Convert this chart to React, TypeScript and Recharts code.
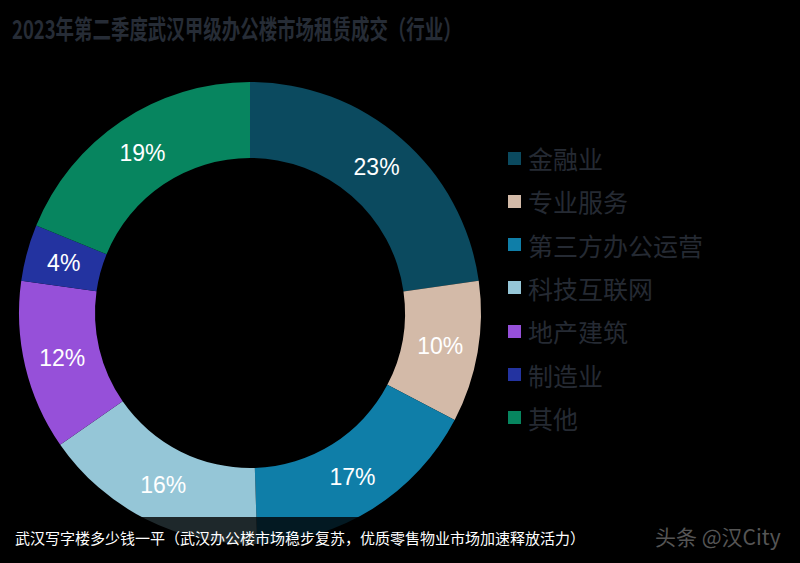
import { PieChart, Pie, Cell } from "recharts";

const sectors = ["金融业", "专业服务", "第三方办公运营", "科技互联网", "地产建筑", "制造业", "其他"];
const shares = [23, 10, 17, 16, 12, 4, 19];
const colors = ["#0b4a5f", "#d3baa8", "#0f7ea8", "#95c6d7", "#9650d9", "#2333a0", "#07855f"];

const data = sectors.map((name, i) => ({ name, value: shares[i] }));

const RADIAN = Math.PI / 180;

function renderLabel(props: any) {
  const { cx, cy, midAngle, innerRadius, outerRadius, index } = props;
  const r = (innerRadius + outerRadius) / 2;
  const x = cx + r * Math.cos(-midAngle * RADIAN);
  const y = cy + r * Math.sin(-midAngle * RADIAN);
  return (
    <text
      x={x}
      y={y}
      fill="#ffffff"
      fontSize={23}
      fontFamily="'Liberation Sans', Arial, sans-serif"
      textAnchor="middle"
      dominantBaseline="central"
    >
      {shares[index]}%
    </text>
  );
}

export default function App() {
  return (
    <div
      style={{
        position: "absolute",
        left: 0,
        top: 0,
        width: 800,
        height: 563,
        background: "#000",
        overflow: "hidden",
        fontFamily: "'Noto Sans CJK SC', sans-serif",
      }}
    >
      <div
        style={{
          position: "absolute",
          left: 12,
          top: 11,
          fontSize: 26,
          fontWeight: 700,
          color: "#262c36",
          whiteSpace: "nowrap",
          lineHeight: "34px",
          transform: "scaleX(0.71)",
          transformOrigin: "left center",
        }}
      >
        2023年第二季度武汉甲级办公楼市场租赁成交（行业）
      </div>

      <PieChart
        width={800}
        height={563}
        margin={{ top: 0, right: 0, bottom: 0, left: 0 }}
        style={{ position: "absolute", left: 0, top: 0 }}
      >
        <Pie
          data={data}
          dataKey="value"
          nameKey="name"
          cx={250}
          cy={313}
          innerRadius={155}
          outerRadius={231}
          startAngle={90}
          endAngle={-270}
          stroke="none"
          label={renderLabel}
          labelLine={false}
          isAnimationActive={false}
        >
          {data.map((_, i) => (
            <Cell key={i} fill={colors[i]} />
          ))}
        </Pie>
      </PieChart>

      {sectors.map((name, i) => (
        <div
          key={name}
          style={{
            position: "absolute",
            left: 508,
            top: 158 + i * 43.3 - 16,
            height: 32,
            display: "flex",
            alignItems: "center",
            whiteSpace: "nowrap",
          }}
        >
          <span style={{ width: 13, height: 13, background: colors[i], display: "inline-block" }} />
          <span style={{ marginLeft: 7, fontSize: 25, color: "#252a33", lineHeight: "32px" }}>{name}</span>
        </div>
      ))}

      <div
        style={{
          position: "absolute",
          left: 0,
          top: 517,
          width: 800,
          height: 46,
          background: "rgba(0,0,0,0.8)",
        }}
      />
      <div
        style={{
          position: "absolute",
          left: 15,
          top: 527,
          fontSize: 15,
          color: "#ffffff",
          whiteSpace: "nowrap",
          lineHeight: "22px",
        }}
      >
        武汉写字楼多少钱一平（武汉办公楼市场稳步复苏，优质零售物业市场加速释放活力）
      </div>
      <div
        style={{
          position: "absolute",
          left: 655,
          top: 522,
          fontSize: 21,
          color: "#555555",
          whiteSpace: "nowrap",
          lineHeight: "28px",
        }}
      >
        头条 @汉City
      </div>
    </div>
  );
}
